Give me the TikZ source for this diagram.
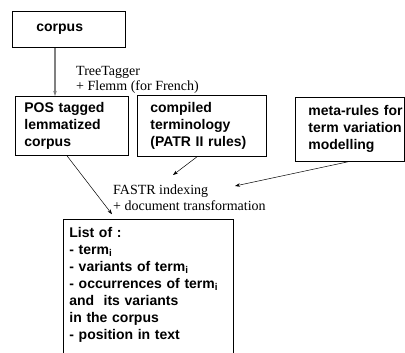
\documentclass[tikz,border=0pt]{standalone}
\usepackage{fontspec}
\setmainfont{Liberation Serif}
\setsansfont{Liberation Sans}
\usetikzlibrary{arrows.meta}

\begin{document}
\begin{tikzpicture}[x=1pt,y=-1pt,
        box/.style={draw, line width=0.8pt, anchor=north west, align=left,
            font=\sffamily\bfseries\fontsize{14}{17}\selectfont},
        note/.style={anchor=north west, align=left, inner sep=0pt,
            font=\fontsize{14}{16}\selectfont},
        feed/.style={line width=0.5pt, -{Stealth[length=5pt,width=3.5pt]}}]
        \useasboundingbox (0,0) rectangle (405,353);
        \clip (0,0) rectangle (405,353);

        \node[box, inner xsep=24pt, text width=65pt, minimum height=36pt] (corpus) at (12,11) {corpus};
        \node[box, inner xsep=9pt, text width=95pt, minimum height=59pt] (pos) at (15,96) {POS tagged\\lemmatized\\corpus};
        \node[box, inner xsep=13pt, text width=103pt, minimum height=61pt] (term) at (137,95) {compiled\\terminology\\(PATR II rules)};
        \node[box, inner xsep=13pt, text width=83pt, minimum height=64pt] (meta) at (295,97) {\mbox{meta-rules for}\\\mbox{term variation}\\modelling};
        \node[box, inner xsep=6pt, inner ysep=8pt, text width=158pt, text depth=140pt] (list) at (63,219)
            {List of :\\- term\textsubscript{i}\\- variants of term\textsubscript{i}\\- occurrences of term\textsubscript{i}\\and\ \ its variants\\in the corpus\\- position in text};

        \node[note, font=\fontsize{14}{15}\selectfont] (tagger) at (76,66) {TreeTagger\\+ Flemm (for French)};
        \node[note] (fastr) at (113,185) {FASTR indexing\\+ document transformation};

        \draw[feed, gray, line width=1.2pt] ([xshift=43pt]corpus.south west) -- ([xshift=40pt]pos.north west);
        \draw[feed] ([xshift=52pt]pos.south west) -- ([xshift=-1pt,yshift=-3pt]fastr.south west);
        \draw[feed] ([xshift=60pt]term.south west) -- ([xshift=60pt,yshift=10pt]fastr.north west);
        \draw[feed] ([xshift=53pt]meta.south west) -- ([xshift=122pt,yshift=-1pt]fastr.north west);% towards the label
    \end{tikzpicture}
\end{document}
